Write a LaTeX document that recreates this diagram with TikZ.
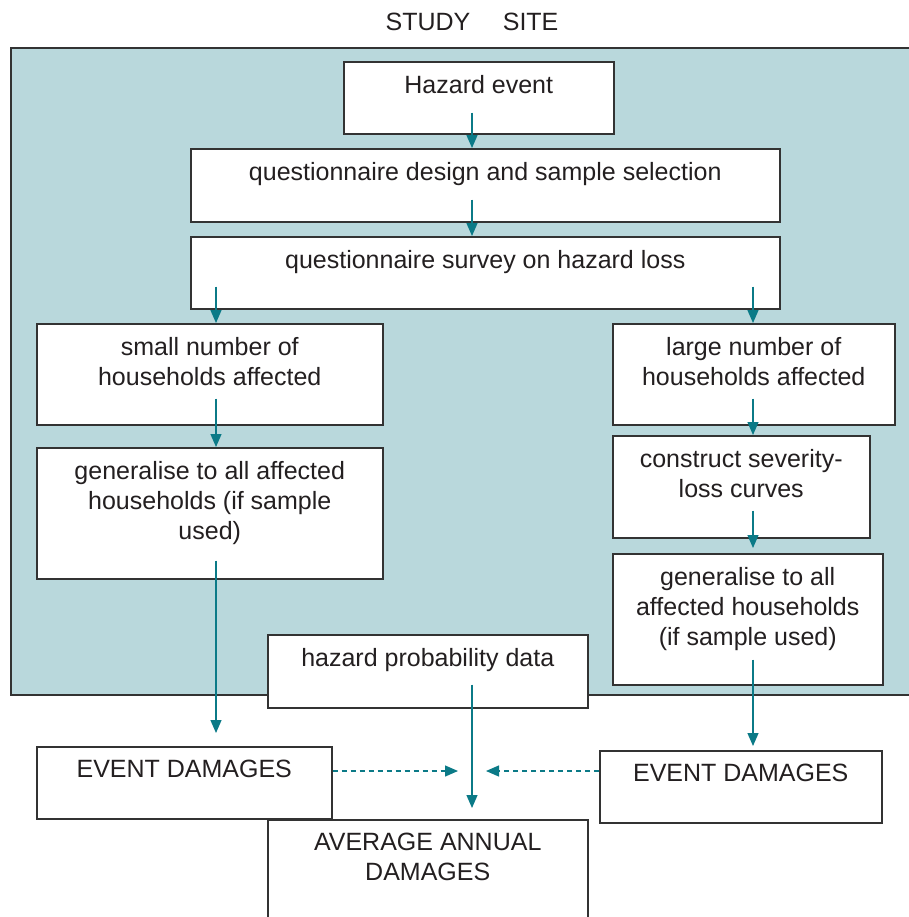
\documentclass[tikz,border=0pt]{standalone}
\usepackage{fontspec}
\setmainfont{Liberation Sans}
\usetikzlibrary{arrows.meta, positioning}
\definecolor{sea}{HTML}{B9D8DC}
\definecolor{flowc}{HTML}{0B7A87}
\definecolor{edge}{HTML}{333333}
\definecolor{ink}{HTML}{231F20}

\begin{document}
\begin{tikzpicture}[x=0.5pt, y=-0.5pt,
      every node/.style={font=\fontsize{12.5}{15}\selectfont, text=ink},
      box/.style={rectangle, draw=edge, fill=white, line width=0.75pt,
                  anchor=north west, inner sep=0pt},
      txt/.style={anchor=north, align=center, inner sep=0pt, yshift=-7pt},
      flow/.style={draw=flowc, line width=0.65pt,
                   -{Triangle[length=6.5pt, width=5.5pt]}},
      dflow/.style={flow, dash pattern=on 2.5pt off 2pt}]
  \clip (0,0) rectangle (909,917);
  \node (title) at (472,22) {STUDY\hspace{1.3em}SITE};
  % study site area
  \draw[fill=sea, draw=edge, line width=1pt] (11,48) rectangle (930,695);
  \foreach \nm/\x/\y/\w/\h/\lab in {
      haz/343/61/270/72/{Hazard event},
      qd/190/148/589/73/{questionnaire design and sample selection},
      qs/190/236/589/72/{questionnaire survey on hazard loss},
      small/36/323/346/101/{small number of\\households affected},
      large/612/323/282/101/{large number of\\households affected},
      genl/36/447/346/131/{generalise to all affected\\households (if sample\\used)},
      cons/612/435/257/102/{construct severity-\\loss curves},
      genr/612/553/270/131/{generalise to all\\affected households\\(if sample used)},
      hp/267/634/320/73/{hazard probability data},
      edl/36/746/295/72/{EVENT DAMAGES},
      edr/599/750/282/72/{EVENT DAMAGES},
      avg/267/819/320/130/{AVERAGE ANNUAL\\DAMAGES}}
    \node[box, minimum width=\w*0.5pt, minimum height=\h*0.5pt,
          label={[txt]north:\lab}] (\nm) at (\x,\y) {};
  % arrows
  \coordinate (lx) at (216,0);
  \coordinate (mx) at (472,0);
  \coordinate (rx) at (753,0);
  \foreach \a/\b/\ax/\s/\g in {haz/qd/mx/11/0, qd/qs/mx/11.5/0,
      qs/small/lx/11.5/0, qs/large/rx/11.5/0, small/genl/lx/13.5/0,
      large/cons/rx/13.5/0, cons/genr/rx/14/2.5, genl/edl/lx/9.5/6.5,
      genr/edr/rx/13/2, hp/avg/mx/12/5.5}
    \draw[flow, shorten >=\g pt] ([yshift=\s pt]\a.south -| \ax) -- (\b.north -| \ax);
  \coordinate (dl) at (458,771);
  \coordinate (dr) at (486,771);
  \draw[dflow] (edl.east |- dl) -- (dl);
  \draw[dflow] (edr.west |- dr) -- (dr);
\end{tikzpicture}
\end{document}
